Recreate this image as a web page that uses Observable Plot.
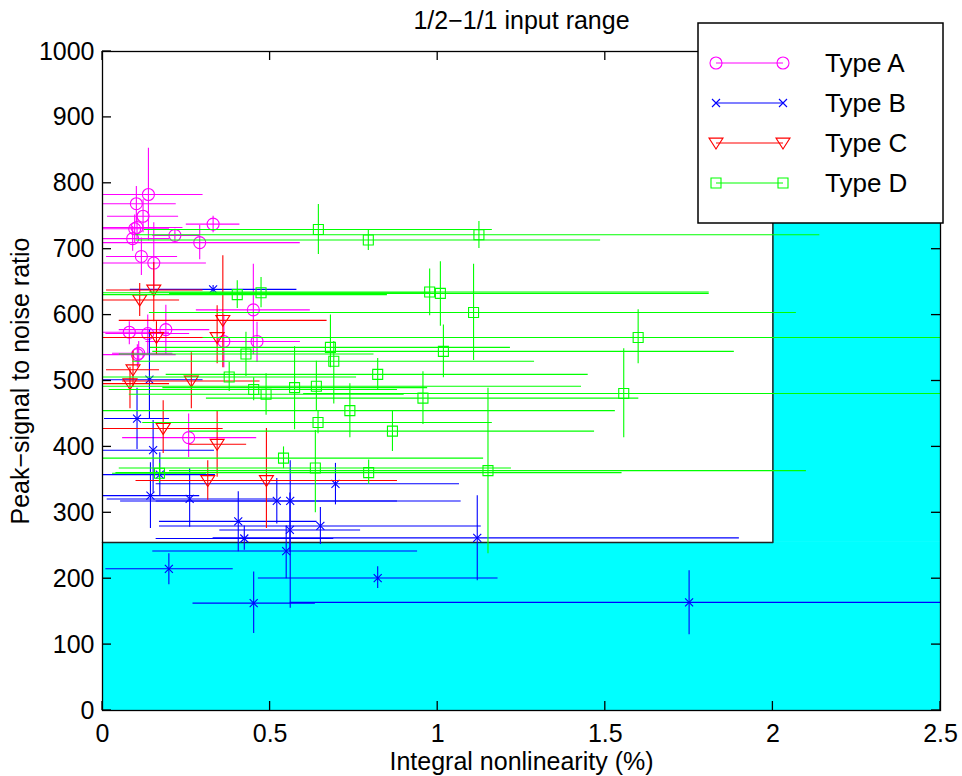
<!DOCTYPE html>
<html><head><meta charset="utf-8">
<script src="https://cdn.jsdelivr.net/npm/d3@7"></script>
<script src="https://cdn.jsdelivr.net/npm/@observablehq/plot@0.6"></script>
<style>body{margin:0;background:#fff} svg{font-family:"Liberation Sans",Arial,Helvetica,sans-serif}</style>
</head><body><div id="chart"></div>
<script>
const typeNames = ["Type A","Type B","Type C","Type D"];
const typeColors = ["#ff00ff","#0000ff","#ff0000","#00ff00"];
const title = "1/2\u22121/1 input range";
const xLabel = "Integral nonlinearity (%)";
const yLabel = "Peak\u2212signal to noise ratio";
const xTicks = [0,0.5,1,1.5,2,2.5];
const yTicks = [0,100,200,300,400,500,600,700,800,900,1000];
const inlLimit = 2, psnrLimit = 255, xMax = 2.5, yMax = 1000;

// Type A
const aX   = [0.137,0.101,0.121,0.33,0.103,0.096,0.216,0.09,0.29,0.116,0.153,0.45,0.08,0.135,0.189,0.362,0.461,0.108,0.104,0.257];
const aY   = [783,769,750,738,733,731,721,716,710,689,679,608,574,572,578,560,560,542,540,414];
const aXlo = [0,0,0.015,0.25,0,0,0.15,0,0,0.012,0,0.28,0,0.01,0.05,0.13,0.33,0.03,0,0.06];
const aXhi = [0.30,0.22,0.227,0.41,0.24,0.2,0.29,0.2,0.59,0.224,0.31,0.62,0.2,0.26,0.32,0.59,0.59,0.21,0.22,0.46];
const aYlo = [713,740,725,725,715,710,712,697,684,660,640,540,555,540,540,520,528,525,520,384];
const aYhi = [853,795,775,750,750,752,730,735,736,717,740,677,590,600,615,600,589,560,555,450];
// Type B
const bX   = [0.33,0.14,0.103,0.151,0.171,0.143,0.26,0.695,0.52,0.56,0.405,0.559,0.65,0.423,1.118,0.548,0.198,0.821,0.451,1.75];
const bY   = [639,502,443,395,358,326,321,344,318,318,287,274,280,261,262,242,215,201,163,164];
const bXlo = [0.083,0,0.006,0,0,0,0.014,0.16,0.054,0.16,0.17,0.35,0.17,0.16,0.33,0.15,0.01,0.465,0.27,0.56];
const bXhi = [0.58,0.30,0.2,0.334,0.337,0.29,0.516,1.065,0.88,1.07,0.64,0.77,1.13,0.69,1.9,0.94,0.39,1.18,0.635,2.94];
const bYlo = [633,443,396,330,326,276,278,312,283,155,241,240,252,243,197,200,191,185,117,115];
const bYhi = [645,577,489,440,391,376,367,375,352,379,332,330,308,280,326,280,238,218,210,212];
// Type C
const cX   = [0.153,0.111,0.359,0.161,0.342,0.091,0.082,0.265,0.181,0.342,0.314,0.489];
const cY   = [638,623,592,566,566,517,496,500,428,404,349,349];
const cXlo = [0.012,0,0.05,0.05,0,0.012,0,0.06,0,0.26,0.1,0.21];
const cXhi = [0.30,0.23,0.67,0.27,0.63,0.17,0.2,0.47,0.36,0.43,0.42,0.88];
const cYlo = [590,598,520,540,526,490,458,458,390,354,319,276];
const cYhi = [680,648,690,590,614,545,521,543,470,455,379,428];
// Type D
const dX   = [0.644,0.793,1.123,0.402,0.473,0.976,1.008,1.107,1.598,1.555,0.68,0.69,1.017,0.821,0.428,0.378,0.451,0.488,0.573,0.638,0.956,0.738,0.643,0.865,0.54,0.635,0.794,1.15,0.17];
const dY   = [730,714,722,631,634,635,633,604,566,481,551,530,545,510,541,506,487,480,490,492,474,455,437,424,383,368,361,364,360];
const dXlo = [0.125,0.1,0.1,0,0,0.14,0.2,0.14,0.3,0.6,0.143,0.09,0.15,0.19,0.05,0,0.02,0.08,0.18,0,0.31,0,0.12,0.26,0,0.05,0.04,0.2,0.03];
const dXhi = [1.163,1.486,2.14,0.85,0.98,1.81,1.81,2.07,2.9,2.6,1.217,1.289,1.885,1.449,0.81,0.758,0.88,0.9,0.97,1.429,1.6,1.53,1.163,1.468,1.137,1.22,1.55,2.1,0.31];
const dYlo = [692,698,701,610,611,599,583,531,526,414,520,465,505,486,507,484,470,448,426,455,434,414,420,393,367,300,343,238,345];
const dYhi = [768,730,742,652,657,670,681,677,608,549,600,560,585,534,574,528,505,511,552,530,514,496,455,455,400,425,380,489,375];

function rows(x,y,xlo,xhi,ylo,yhi){ return x.map((v,i)=>({x:v,y:y[i],xlo:xlo[i],xhi:xhi[i],ylo:ylo[i],yhi:yhi[i]})); }
const series = [
  rows(aX,aY,aXlo,aXhi,aYlo,aYhi),
  rows(bX,bY,bXlo,bXhi,bYlo,bYhi),
  rows(cX,cY,cXlo,cXhi,cYlo,cYhi),
  rows(dX,dY,dXlo,dXhi,dYlo,dYhi)
];

const symCircle = {draw(c,s){const r=Math.sqrt(s/Math.PI); c.moveTo(r,0); c.arc(0,0,r,0,2*Math.PI);}};
const symTimes  = {draw(c,s){const r=Math.sqrt(s/Math.PI); c.moveTo(-r,-r); c.lineTo(r,r); c.moveTo(-r,r); c.lineTo(r,-r);}};
const symTriDown= {draw(c,s){const r=Math.sqrt(s/Math.PI); c.moveTo(-r,-r*0.7); c.lineTo(r,-r*0.7); c.lineTo(0,r*0.85); c.closePath();}};
const symSquare = {draw(c,s){const r=Math.sqrt(s/Math.PI); c.moveTo(-r,-r); c.lineTo(r,-r); c.lineTo(r,r); c.lineTo(-r,r); c.closePath();}};
const symbols = [symCircle, symTimes, symTriDown, symSquare];
const radii = [6, 4, 7, 5];

const shadeRects = [
  {x1:0, x2:xMax, y1:0, y2:psnrLimit},
  {x1:inlLimit, x2:xMax, y1:psnrLimit, y2:yMax}
];
const shadeEdge = [[0,psnrLimit],[inlLimit,psnrLimit],[inlLimit,yMax]];

const marks = [
  Plot.rect(shadeRects, {x1:"x1", x2:"x2", y1:"y1", y2:"y2", fill:"#00ffff"}),
  Plot.line(shadeEdge, {x:d=>d[0], y:d=>d[1], stroke:"#222", strokeWidth:1.5})
];
series.forEach((data,i)=>{
  marks.push(Plot.ruleY(data, {y:"y", x1:"xlo", x2:"xhi", stroke:typeColors[i], strokeWidth:1.1, clip:true}));
  marks.push(Plot.ruleX(data, {x:"x", y1:"ylo", y2:"yhi", stroke:typeColors[i], strokeWidth:1.1, clip:true}));
  marks.push(Plot.dot(data, {x:"x", y:"y", symbol:symbols[i], r:radii[i], stroke:typeColors[i], fill:"none", strokeWidth:1.1}));
});
marks.push(Plot.frame({stroke:"#000", strokeWidth:1.3}));
marks.push(Plot.axisX({ticks:xTicks, tickSize:0, tickPadding:14, tickFormat:d=>String(d), label:null}));
marks.push(Plot.axisY({ticks:yTicks, tickSize:0, tickPadding:8, tickFormat:d=>String(d), label:null}));
marks.push(Plot.text([title], {frameAnchor:"top", dy:-31, fontSize:25, lineAnchor:"middle", textAnchor:"middle"}));
marks.push(Plot.text([xLabel], {frameAnchor:"bottom", dy:51, fontSize:25, lineAnchor:"middle", textAnchor:"middle"}));
marks.push(Plot.text([yLabel], {frameAnchor:"left", dx:-82, rotate:-90, fontSize:25, lineAnchor:"middle", textAnchor:"middle"}));

const chart = Plot.plot({
  width:962, height:776,
  marginLeft:102, marginRight:22, marginTop:51, marginBottom:66,
  x:{domain:[0,xMax]},
  y:{domain:[0,yMax]},
  style:{fontSize:"25px", fontFamily:'"Liberation Sans",Arial,Helvetica,sans-serif', background:"white", color:"black"},
  marks
});
document.getElementById("chart").appendChild(chart);

// inward ticks on all four sides
const sx = chart.scale("x"), sy = chart.scale("y");
const svg = d3.select(chart);
const pxLeft = sx.apply(0), pxRight = sx.apply(xMax), pxTop = sy.apply(yMax), pxBottom = sy.apply(0);
const tg = svg.append("g").attr("stroke","#000").attr("stroke-width",1.3);
const tl = 9;
xTicks.forEach(t=>{const p=sx.apply(t);
  tg.append("line").attr("x1",p).attr("x2",p).attr("y1",pxBottom).attr("y2",pxBottom-tl);
  tg.append("line").attr("x1",p).attr("x2",p).attr("y1",pxTop).attr("y2",pxTop+tl);});
yTicks.forEach(t=>{const p=sy.apply(t);
  tg.append("line").attr("y1",p).attr("y2",p).attr("x1",pxLeft).attr("x2",pxLeft+tl);
  tg.append("line").attr("y1",p).attr("y2",p).attr("x1",pxRight).attr("x2",pxRight-tl);});

// legend box
const lg = svg.append("g");
lg.append("rect").attr("x",698).attr("y",23).attr("width",245).attr("height",200)
  .attr("fill","white").attr("stroke","#000").attr("stroke-width",1.5);
typeNames.forEach((name,i)=>{
  const yy = 63 + i*40;
  lg.append("line").attr("x1",716).attr("x2",783).attr("y1",yy).attr("y2",yy).attr("stroke",typeColors[i]).attr("stroke-width",1.1);
  [716,783].forEach(xx=>{
    const path = d3.path(); symbols[i].draw(path, Math.PI*radii[i]*radii[i]);
    lg.append("path").attr("d",path.toString()).attr("transform",`translate(${xx},${yy})`)
      .attr("fill","none").attr("stroke",typeColors[i]).attr("stroke-width",1.1);
  });
  lg.append("text").attr("x",825).attr("y",yy+9).attr("font-size",26).attr("text-anchor","start").attr("fill","#000").text(name);
});
</script></body></html>
